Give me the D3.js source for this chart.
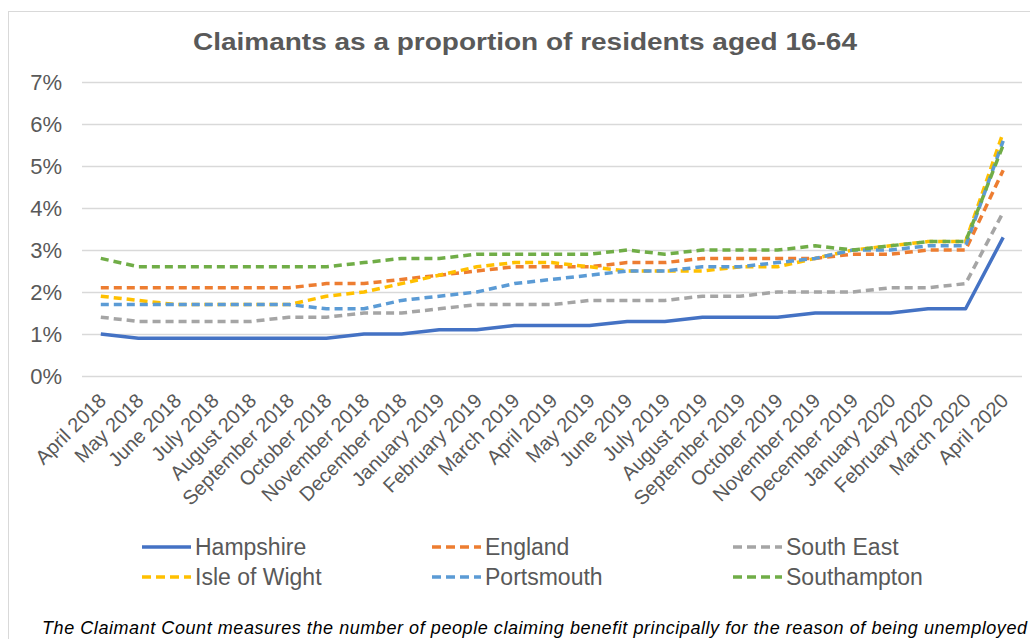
<!DOCTYPE html>
<html>
<head>
<meta charset="utf-8">
<script src="https://cdn.jsdelivr.net/npm/d3@7"></script>
<style>
  body { margin: 0; background: #fff; }
  text { font-family: "Liberation Sans", Arial, sans-serif; fill: #595959; }
</style>
</head>
<body>
<div id="chart"></div>
<script>
// months on the x axis
var months = ["April 2018", "May 2018", "June 2018", "July 2018", "August 2018",
  "September 2018", "October 2018", "November 2018", "December 2018",
  "January 2019", "February 2019", "March 2019", "April 2019", "May 2019",
  "June 2019", "July 2019", "August 2019", "September 2019", "October 2019",
  "November 2019", "December 2019", "January 2020", "February 2020",
  "March 2020", "April 2020"];

var yTicks = [0, 0.01, 0.02, 0.03, 0.04, 0.05, 0.06, 0.07];

// claimants as % of residents 16-64
var hampshire   = [1.0, 0.9, 0.9, 0.9, 0.9, 0.9, 0.9, 1.0, 1.0, 1.1, 1.1, 1.2, 1.2, 1.2, 1.3, 1.3, 1.4, 1.4, 1.4, 1.5, 1.5, 1.5, 1.6, 1.6, 3.3];
var england     = [2.1, 2.1, 2.1, 2.1, 2.1, 2.1, 2.2, 2.2, 2.3, 2.4, 2.5, 2.6, 2.6, 2.6, 2.7, 2.7, 2.8, 2.8, 2.8, 2.8, 2.9, 2.9, 3.0, 3.0, 4.9];
var southEast   = [1.4, 1.3, 1.3, 1.3, 1.3, 1.4, 1.4, 1.5, 1.5, 1.6, 1.7, 1.7, 1.7, 1.8, 1.8, 1.8, 1.9, 1.9, 2.0, 2.0, 2.0, 2.1, 2.1, 2.2, 3.9];
var isleOfWight = [1.9, 1.8, 1.7, 1.7, 1.7, 1.7, 1.9, 2.0, 2.2, 2.4, 2.6, 2.7, 2.7, 2.6, 2.5, 2.5, 2.5, 2.6, 2.6, 2.8, 3.0, 3.1, 3.2, 3.2, 5.8];
var portsmouth  = [1.7, 1.7, 1.7, 1.7, 1.7, 1.7, 1.6, 1.6, 1.8, 1.9, 2.0, 2.2, 2.3, 2.4, 2.5, 2.5, 2.6, 2.6, 2.7, 2.8, 3.0, 3.0, 3.1, 3.1, 5.6];
var southampton = [2.8, 2.6, 2.6, 2.6, 2.6, 2.6, 2.6, 2.7, 2.8, 2.8, 2.9, 2.9, 2.9, 2.9, 3.0, 2.9, 3.0, 3.0, 3.0, 3.1, 3.0, 3.1, 3.2, 3.2, 5.5];

var seriesNames  = ["Hampshire", "England", "South East", "Isle of Wight", "Portsmouth", "Southampton"];
var seriesValues = [hampshire, england, southEast, isleOfWight, portsmouth, southampton];
var seriesColors = ["#4472C4", "#ED7D31", "#A5A5A5", "#FFC000", "#5B9BD5", "#70AD47"];

var width = 1030, height = 639;

var svg = d3.select("#chart").append("svg")
  .attr("width", width)
  .attr("height", height);

// chart area border
svg.append("rect")
  .attr("x", 8.5).attr("y", 11.5)
  .attr("width", 1040).attr("height", 640)
  .attr("fill", "none")
  .attr("stroke", "#d9d9d9");

svg.append("text")
  .attr("x", 193).attr("y", 50)
  .attr("textLength", 664)
  .attr("lengthAdjust", "spacingAndGlyphs")
  .style("font-size", "23px")
  .style("font-weight", "bold")
  .text("Claimants as a proportion of residents aged 16-64");

var x = d3.scalePoint().domain(months).range([82, 1022]).padding(0.5);
var y = d3.scaleLinear().domain([0, 0.07]).range([376, 82]);

// gridlines + y labels
var yAxis = d3.axisLeft(y)
  .tickValues(yTicks)
  .tickFormat(d3.format(".0%"))
  .tickSize(-(1022 - 82))
  .tickPadding(20);

var yG = svg.append("g")
  .attr("transform", "translate(82,0)")
  .call(yAxis);
yG.select(".domain").remove();
yG.selectAll(".tick line").attr("stroke", "#d9d9d9").attr("stroke-width", 1.3);
yG.selectAll(".tick text")
  .style("font-size", "22px")
  .style("font-family", "'Liberation Sans', Arial, sans-serif")
  .attr("fill", "#595959");

// x labels
var xAxis = d3.axisBottom(x).tickSize(0).tickPadding(0);
var xG = svg.append("g")
  .attr("transform", "translate(0,376)")
  .call(xAxis);
xG.select(".domain").remove();
xG.selectAll(".tick text")
  .style("font-size", "20px")
  .style("font-family", "'Liberation Sans', Arial, sans-serif")
  .attr("fill", "#595959")
  .attr("text-anchor", "end")
  .attr("y", 0).attr("dy", 0)
  .attr("transform", "translate(6,26) rotate(-45)");

var line = d3.line()
  .x(function(d, i) { return x(months[i]); })
  .y(function(d) { return y(d / 100); });

svg.selectAll(".series")
  .data(seriesValues)
  .enter().append("path")
  .attr("class", "series")
  .attr("d", line)
  .attr("fill", "none")
  .attr("stroke", function(d, i) { return seriesColors[i]; })
  .attr("stroke-width", 3.5)
  .attr("stroke-linejoin", "round")
  .attr("stroke-dasharray", function(d, i) { return i === 0 ? null : "8,5"; });

// legend
var legendCols = [142, 432, 733];
var legend = svg.selectAll(".legend")
  .data(seriesNames)
  .enter().append("g")
  .attr("class", "legend")
  .attr("transform", function(d, i) {
    return "translate(" + legendCols[i % 3] + "," + (547 + Math.floor(i / 3) * 30) + ")";
  });

legend.append("line")
  .attr("x1", 0).attr("x2", 49)
  .attr("y1", 0).attr("y2", 0)
  .attr("stroke", function(d, i) { return seriesColors[i]; })
  .attr("stroke-width", 3.5)
  .attr("stroke-dasharray", function(d, i) { return i === 0 ? null : "9,5"; });

legend.append("text")
  .attr("x", 53).attr("y", 0)
  .attr("dy", "0.35em")
  .style("font-size", "23px")
  .text(function(d) { return d; });

svg.append("text")
  .attr("x", 42).attr("y", 634)
  .attr("textLength", 985)
  .attr("lengthAdjust", "spacing")
  .style("font-size", "18px")
  .style("font-style", "italic")
  .style("fill", "#000")
  .text("The Claimant Count measures the number of people claiming benefit principally for the reason of being unemployed");
</script>
</body>
</html>
